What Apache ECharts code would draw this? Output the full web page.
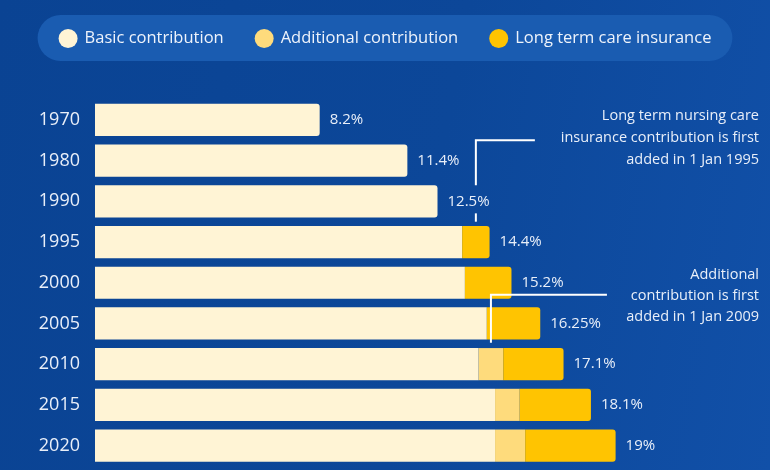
<!DOCTYPE html>
<html>
<head>
<meta charset="utf-8">
<script src="https://cdn.jsdelivr.net/npm/echarts@6/dist/echarts.min.js"></script>
<style>
  html, body { margin: 0; padding: 0; }
  #main {
    width: 770px; height: 470px;
    background: linear-gradient(100deg, #0a4393 0%, #0c4799 55%, #1150a8 100%);
  }
</style>
</head>
<body>
<div id="main"></div>
<script>
// 数据
const years = ['1970', '1980', '1990', '1995', '2000', '2005', '2010', '2015', '2020'];
const basic = [8.2, 11.4, 12.5, 13.4, 13.5, 14.3, 14.0, 14.6, 14.6];
const additional = [0, 0, 0, 0, 0, 0, 0.9, 0.9, 1.1];
const careInsurance = [0, 0, 0, 1.0, 1.7, 1.95, 2.2, 2.6, 3.3];
const totals = ['8.2', '11.4', '12.5', '14.4', '15.2', '16.25', '17.1', '18.1', '19'];

const FONT = 'Open Sans';
const chart = echarts.init(document.getElementById('main'));

// 最右侧的一段加圆角
function withRadius(values, idx) {
  return values.map((v, i) => {
    const stack = [basic[i], additional[i], careInsurance[i]];
    let last = 0;
    stack.forEach((s, k) => { if (s > 0) last = k; });
    return last === idx ? { value: v, itemStyle: { borderRadius: [0, 3, 3, 0] } } : v;
  });
}

const option = {
  animation: false,
  legend: {
    left: 'center',
    top: 15,
    padding: [14, 21, 13, 21],
    backgroundColor: '#1a5cb1',
    borderRadius: 23,
    icon: 'circle',
    itemWidth: 19,
    itemHeight: 19,
    itemGap: 31,
    textStyle: { color: '#eef3fb', fontSize: 16.5, fontFamily: FONT, padding: [0, 0, 0, 2] },
    data: ['Basic contribution', 'Additional contribution', 'Long term care insurance']
  },
  grid: { left: 95, top: 99.6, width: 657.6, height: 366.3, containLabel: false },
  xAxis: {
    type: 'value', min: 0, max: 24,
    show: false
  },
  yAxis: {
    type: 'category',
    data: years,
    inverse: true,
    axisLine: { show: false },
    axisTick: { show: false },
    axisLabel: { color: '#e9eff9', fontSize: 18, fontFamily: FONT, margin: 15 }
  },
  series: [
    {
      name: 'Basic contribution', type: 'bar', stack: 'total',
      barCategoryGap: '21%',
      itemStyle: { color: '#fff4d5' },
      data: withRadius(basic, 0)
    },
    {
      name: 'Additional contribution', type: 'bar', stack: 'total',
      itemStyle: { color: '#fedb7c' },
      data: withRadius(additional, 1)
    },
    {
      name: 'Long term care insurance', type: 'bar', stack: 'total',
      itemStyle: { color: '#ffc401' },
      data: withRadius(careInsurance, 2),
      label: {
        show: true, position: 'right', distance: 10,
        color: '#e9eff9', fontSize: 15, fontFamily: FONT,
        formatter: p => totals[p.dataIndex] + '%'
      }
    }
  ]
};
chart.setOption(option);

// 注释线
const px = (v, cat) => chart.convertToPixel({ gridIndex: 0 }, [v, cat]);
const band = 366.3 / years.length;
const lineStyle = { stroke: '#ffffff', lineWidth: 2 };

const x1 = px(basic[3] + careInsurance[3] / 2, 3)[0];
const y1 = px(0, 0)[1] + band / 2;
const y1mid = px(0, 2)[1];
const y1end = px(0, 3)[1] - band / 2;
const x1end = x1 + 59;

const x2 = px(basic[6] + additional[6] / 2, 6)[0];
const y2 = px(0, 4)[1] + 12;
const y2end = px(0, 6)[1] - band / 2 - 1;
const x2end = x2 + 116;

chart.setOption({
  graphic: [
    { type: 'polyline', shape: { points: [[x1end, y1], [x1, y1], [x1, y1mid - 16]] }, style: lineStyle, z: 100 },
    { type: 'line', shape: { x1: x1, y1: y1mid + 12, x2: x1, y2: y1end }, style: lineStyle, z: 100 },
    { type: 'polyline', shape: { points: [[x2end, y2], [x2, y2], [x2, y2end]] }, style: lineStyle, z: 100 },
    {
      type: 'text', x: 759, y: 105, z: 100,
      style: {
        text: 'Long term nursing care\ninsurance contribution is first\nadded in 1 Jan 1995',
        align: 'right', verticalAlign: 'top', lineHeight: 22,
        fill: '#e9eff9', fontSize: 14.5, fontFamily: FONT
      }
    },
    {
      type: 'text', x: 759, y: 264, z: 100,
      style: {
        text: 'Additional\ncontribution is first\nadded in 1 Jan 2009',
        align: 'right', verticalAlign: 'top', lineHeight: 21,
        fill: '#e9eff9', fontSize: 14.5, fontFamily: FONT
      }
    }
  ]
});
</script>
</body>
</html>
